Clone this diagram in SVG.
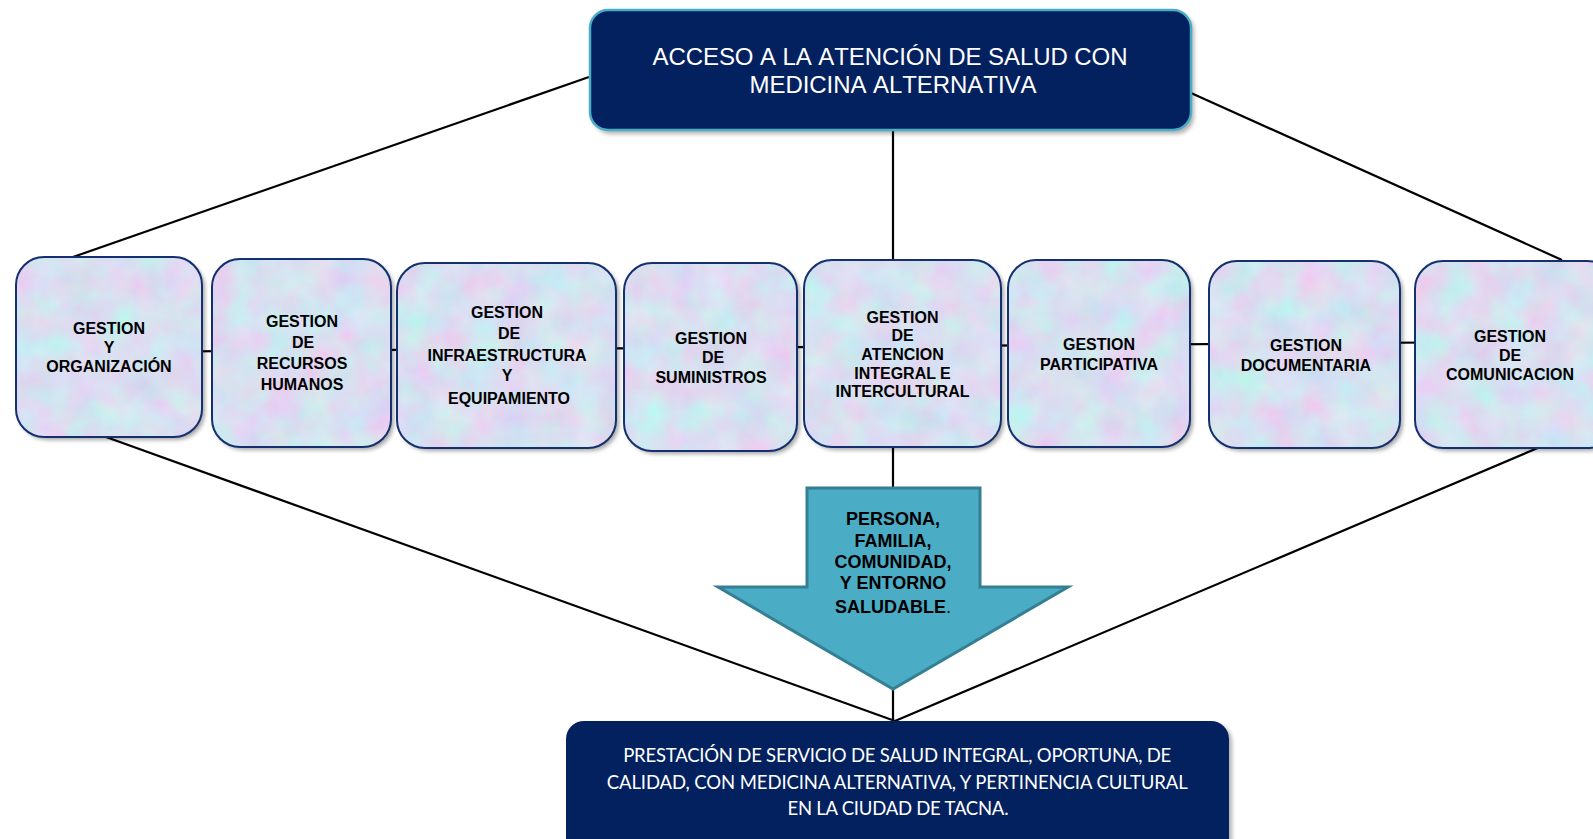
<svg xmlns="http://www.w3.org/2000/svg" width="1593" height="839" viewBox="0 0 1593 839">
<style>
.conn{stroke:#000;stroke-width:2.2;fill:none}
.ntex{fill:#fff;filter:url(#tex)}
.nbox{fill:none;stroke:#14306e;stroke-width:2}
.nsh{fill:#000;opacity:.35;filter:url(#blur)}
.nt{font-family:"Liberation Sans",Arial,sans-serif;font-weight:bold;font-size:16px;fill:#000;text-anchor:middle}
.dark{fill:#03215f}
.tt{font-family:"Liberation Sans",Arial,sans-serif;font-size:24px;fill:#fff;text-anchor:middle;font-kerning:none}
.bt{font-family:Lato,"Open Sans",sans-serif;font-size:18.5px;fill:#fff;text-anchor:middle}
.at{font-family:"Liberation Sans",Arial,sans-serif;font-weight:bold;font-size:18px;fill:#000;text-anchor:middle}
</style>
<defs>
<filter id="tex" x="0" y="0" width="1" height="1">
<feTurbulence type="fractalNoise" baseFrequency="0.03" numOctaves="3" seed="7" result="n"/>
<feColorMatrix in="n" type="matrix" values="0.4 -0.18 0 0 0.58  -0.18 0.34 0 0 0.66  0 0 0.15 0 0.8  0 0 0 0 1" result="c"/>
<feComposite in="c" in2="SourceAlpha" operator="in"/>
</filter>
<filter id="blur" x="-10%" y="-10%" width="120%" height="120%">
<feGaussianBlur stdDeviation="2"/>
</filter>
</defs>

<g id="connectors">
<line class="conn" x1="589" y1="77" x2="73" y2="257"/>
<line class="conn" x1="1191" y1="93" x2="1562" y2="260"/>
<line class="conn" x1="893" y1="130" x2="893" y2="261"/>
<line class="conn" x1="110" y1="352" x2="1500" y2="342"/>
<line class="conn" x1="893" y1="446" x2="893" y2="721"/>
<line class="conn" x1="106" y1="437" x2="895" y2="721"/>
<line class="conn" x1="1540" y1="447" x2="895" y2="721"/>
</g>

<g id="top">
<rect x="593" y="13" width="601" height="121" rx="18" fill="#000" opacity=".3" filter="url(#blur)"/>
<rect class="dark" x="590" y="10" width="601" height="120" rx="18" stroke="#4bacc6" stroke-width="2.5"/>
<text class="tt" x="890" y="65" textLength="475">ACCESO A LA ATENCIÓN DE SALUD CON</text>
<text class="tt" x="893" y="92.5" textLength="287">MEDICINA ALTERNATIVA</text>
</g>

<g id="n1">
<rect class="nsh" x="19" y="260" width="186" height="180" rx="28"/>
<rect class="ntex" x="16" y="257" width="186" height="180" rx="28"/>
<rect class="nbox" x="16" y="257" width="186" height="180" rx="28"/>
<text class="nt" x="109" y="334">GESTION</text>
<text class="nt" x="109" y="352.5">Y</text>
<text class="nt" x="109" y="372">ORGANIZACIÓN</text>
</g>

<g id="n2">
<rect class="nsh" x="215" y="262" width="179" height="188" rx="28"/>
<rect class="ntex" x="212" y="259" width="179" height="188" rx="28"/>
<rect class="nbox" x="212" y="259" width="179" height="188" rx="28"/>
<text class="nt" x="302" y="327">GESTION</text>
<text class="nt" x="303" y="347.5">DE</text>
<text class="nt" x="302" y="369">RECURSOS</text>
<text class="nt" x="302" y="390">HUMANOS</text>
</g>

<g id="n3">
<rect class="nsh" x="400" y="266" width="219" height="185" rx="28"/>
<rect class="ntex" x="397" y="263" width="219" height="185" rx="28"/>
<rect class="nbox" x="397" y="263" width="219" height="185" rx="28"/>
<text class="nt" x="507" y="318">GESTION</text>
<text class="nt" x="509" y="339">DE</text>
<text class="nt" x="507" y="361">INFRAESTRUCTURA</text>
<text class="nt" x="507" y="381">Y</text>
<text class="nt" x="509" y="404">EQUIPAMIENTO</text>
</g>

<g id="n4">
<rect class="nsh" x="627" y="266" width="173" height="188" rx="28"/>
<rect class="ntex" x="624" y="263" width="173" height="188" rx="28"/>
<rect class="nbox" x="624" y="263" width="173" height="188" rx="28"/>
<text class="nt" x="711" y="344">GESTION</text>
<text class="nt" x="713" y="362.5">DE</text>
<text class="nt" x="711" y="382.5">SUMINISTROS</text>
</g>

<g id="n5">
<rect class="nsh" x="807" y="263" width="197" height="187" rx="28"/>
<rect class="ntex" x="804" y="260" width="197" height="187" rx="28"/>
<rect class="nbox" x="804" y="260" width="197" height="187" rx="28"/>
<text class="nt" x="902.5" y="323">GESTION</text>
<text class="nt" x="902.5" y="341">DE</text>
<text class="nt" x="902.5" y="359.5">ATENCION</text>
<text class="nt" x="902.5" y="378.5">INTEGRAL E</text>
<text class="nt" x="902.5" y="397">INTERCULTURAL</text>
</g>

<g id="n6">
<rect class="nsh" x="1011" y="263" width="182" height="187" rx="28"/>
<rect class="ntex" x="1008" y="260" width="182" height="187" rx="28"/>
<rect class="nbox" x="1008" y="260" width="182" height="187" rx="28"/>
<text class="nt" x="1099" y="350">GESTION</text>
<text class="nt" x="1099" y="370">PARTICIPATIVA</text>
</g>

<g id="n7">
<rect class="nsh" x="1212" y="264" width="191" height="187" rx="28"/>
<rect class="ntex" x="1209" y="261" width="191" height="187" rx="28"/>
<rect class="nbox" x="1209" y="261" width="191" height="187" rx="28"/>
<text class="nt" x="1306" y="351">GESTION</text>
<text class="nt" x="1306" y="371">DOCUMENTARIA</text>
</g>

<g id="n8">
<rect class="nsh" x="1418" y="264" width="200" height="187" rx="28"/>
<rect class="ntex" x="1415" y="261" width="200" height="187" rx="28"/>
<rect class="nbox" x="1415" y="261" width="200" height="187" rx="28"/>
<text class="nt" x="1510" y="342">GESTION</text>
<text class="nt" x="1510" y="361">DE</text>
<text class="nt" x="1510" y="380">COMUNICACION</text>
</g>

<g id="arrow">
<polygon points="807,488 980,488 980,587 1068,587 893,689 718,587 807,587" fill="#4bacc6" stroke="#357f93" stroke-width="3" stroke-linejoin="miter"/>
<text class="at" x="893" y="525">PERSONA,</text>
<text class="at" x="893" y="546.5">FAMILIA,</text>
<text class="at" x="893" y="567.5">COMUNIDAD,</text>
<text class="at" x="893" y="589">Y ENTORNO</text>
<text class="at" x="893" y="613">SALUDABLE<tspan font-weight="normal">.</tspan></text>
</g>

<g id="bottom">
<rect x="569" y="724" width="663" height="140" rx="18" fill="#000" opacity=".3" filter="url(#blur)"/>
<rect class="dark" x="566" y="721" width="663" height="140" rx="18"/>
<text class="bt" x="897.2" y="762" textLength="548">PRESTACIÓN DE SERVICIO DE SALUD INTEGRAL, OPORTUNA, DE</text>
<text class="bt" x="897.2" y="788.5" textLength="581">CALIDAD, CON MEDICINA ALTERNATIVA, Y PERTINENCIA CULTURAL</text>
<text class="bt" x="898" y="814.5" textLength="221">EN LA CIUDAD DE TACNA.</text>
</g>
</svg>
